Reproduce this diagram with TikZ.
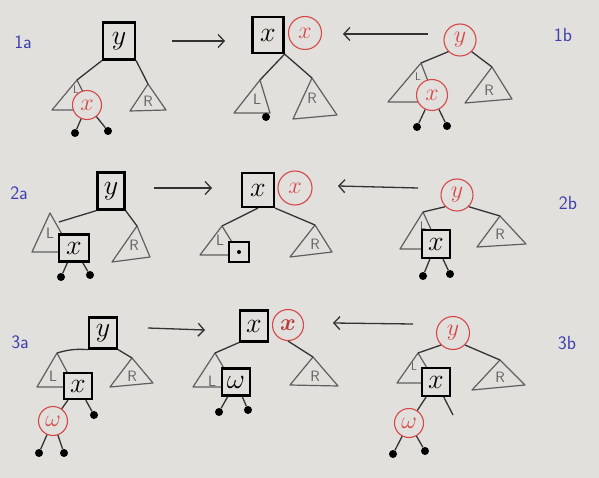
\documentclass[tikz,border=0pt]{standalone}
\usepackage{fix-cm}
\usepackage{amsmath}
\usetikzlibrary{arrows.meta}

\definecolor{paper}{RGB}{226,224,221}
\definecolor{penred}{RGB}{214,72,72}
\definecolor{penblue}{RGB}{62,62,175}
\definecolor{pencil}{RGB}{95,95,95}

\tikzset{
  blk/.style={draw, line width=2.2pt, fill=paper, inner sep=0pt,
    font=\fontsize{28}{28}\selectfont},
  rnode/.style={draw=penred, circle, line width=1.1pt, fill=paper, text=penred,
    inner sep=0pt, minimum size=31pt, font=\fontsize{24}{24}\selectfont},
  leaf/.style={circle, fill=black, inner sep=0pt, minimum size=8pt},
  edge/.style={line width=1.3pt, draw=black!80},
  tri/.style={line width=1.2pt, draw=pencil, line join=round},
  subR/.style={text=pencil, font=\sffamily\fontsize{15}{15}\selectfont},
  subL/.style={text=pencil, font=\sffamily\fontsize{11}{11}\selectfont},
  casename/.style={text=penblue, font=\sffamily\fontsize{19}{19}\selectfont},
}

\begin{document}
\begin{tikzpicture}[x=1pt, y=-1pt, >={Straight Barb[length=6pt,width=13pt]}]
    % 背景
    \fill[paper] (0,0) rectangle (599,478);

    % 情形名称
    \node[casename] (c1a) at (23,42) {1a};
    \node[casename] (c1b) at (563,35) {1b};
    \node[casename] (c2a) at (19,193) {2a};
    \node[casename] (c2b) at (568,203) {2b};
    \node[casename] (c3a) at (20,342) {3a};
    \node[casename] (c3b) at (567,343) {3b};

    % 第一行 1a
    \coordinate (L1a) at (77,80);
    \coordinate (R1a) at (148,84);
    \draw[tri] (L1a) -- (52,110) -- (92,110) -- cycle;
    \draw[tri] (R1a) -- (130,111) -- (166,110) -- cycle;
    \node[subL] (tL1a) at (76,90) {L};
    \node[subR] (tR1a) at (148,101) {R};
    \node[blk, minimum width=32pt, minimum height=37pt] (y1a) at (119,41) {$y$};
    \node[rnode, minimum size=29pt] (x1a) at (87,105) {$x$};
    \node[leaf] (d1a1) at (75,133) {};
    \node[leaf] (d1a2) at (108,131) {};
    \draw[edge] (y1a.south west) -- (L1a);
    \draw[edge] (y1a.south east) -- (R1a);
    \draw[edge] (x1a) -- (d1a1);
    \draw[edge] (x1a) -- (d1a2);

    % 第一行 结果
    \coordinate (L1m) at (260,80);
    \coordinate (R1m) at (312,78);
    \draw[tri] (L1m) -- (234,113) -- (270,113) -- cycle;
    \draw[tri] (R1m) -- (293,119) -- (337,115) -- cycle;
    \node[subR] (tL1m) at (257,99) {L};
    \node[subR] (tR1m) at (312,98) {R};
    \node[blk, minimum width=31pt, minimum height=36pt] (x1m) at (268,35) {$x$};
    \node[rnode, minimum size=33pt] (xx1m) at (305,33) {$x$};
    \node[leaf] (d1m) at (266,117) {};
    \draw[edge] (x1m.south east) -- (L1m);
    \draw[edge] (x1m.south east) -- (R1m);

    % 第一行 1b
    \coordinate (L1b) at (421,63);
    \coordinate (R1b) at (492,67);
    \draw[tri] (L1b) -- (388,102) -- (436,102) -- cycle;
    \draw[tri] (R1b) -- (465,103) -- (512,99) -- cycle;
    \node[subL] (tL1b) at (418,77) {L};
    \node[subR] (tR1b) at (489,90) {R};
    \node[rnode, minimum size=32pt] (y1b) at (460,40) {$y$};
    \node[rnode, minimum size=31pt] (x1b) at (432,95) {$x$};
    \node[leaf] (d1b1) at (417,127) {};
    \node[leaf] (d1b2) at (447,126) {};
    \draw[edge] (y1b.south west) -- (L1b);
    \draw[edge] (y1b.south east) -- (R1b);
    \draw[edge] (x1b) -- (d1b1);
    \draw[edge] (x1b) -- (d1b2);

    % 第一行 箭头
    \coordinate (a1s) at (172,41);
    \coordinate (a1e) at (225,41);
    \coordinate (b1s) at (428,34);
    \coordinate (b1e) at (343,34);
    \draw[edge, ->] (a1s) -- (a1e);
    \draw[edge, ->] (b1s) -- (b1e);

    % 第二行 2a
    \coordinate (L2a) at (50,213);
    \coordinate (R2a) at (137,226);
    \coordinate (j2a) at (59,222);
    \draw[tri] (L2a) -- (32,252) -- (72,252) -- cycle;
    \draw[tri] (R2a) -- (112,262) -- (150,257) -- cycle;
    \node[subR] (tL2a) at (50,233) {L};
    \node[subR] (tR2a) at (134,245) {R};
    \node[blk, minimum width=27pt, minimum height=37pt] (y2a) at (111,191) {$y$};
    \node[blk, minimum width=30pt, minimum height=27pt] (x2a) at (74,248) {$x$};
    \node[leaf] (d2a1) at (61,277) {};
    \node[leaf] (d2a2) at (90,275) {};
    \draw[edge] (y2a.south west) -- (j2a);
    \draw[edge] (y2a.south east) -- (R2a);
    \draw[edge] (x2a) -- (d2a1);
    \draw[edge] (x2a) -- (d2a2);

    % 第二行 结果
    \coordinate (L2m) at (222,226);
    \coordinate (R2m) at (315,225);
    \draw[tri] (L2m) -- (200,255) -- (240,255) -- cycle;
    \draw[tri] (R2m) -- (290,257) -- (332,252) -- cycle;
    \node[subR] (tL2m) at (220,240) {L};
    \node[subR] (tR2m) at (315,244) {R};
    \node[blk, minimum width=32pt, minimum height=34pt] (x2m) at (258,190) {$x$};
    \node[rnode, minimum size=34pt] (xx2m) at (295,188) {$x$};
    \node[blk, line width=2pt, minimum width=20pt, minimum height=19pt] (n2m) at (239,252) {};
    \node[leaf, minimum size=4pt] (d2m) at (n2m) {};
    \draw[edge] (x2m.south) -- (L2m);
    \draw[edge] (x2m.south east) -- (R2m);

    % 第二行 2b
    \coordinate (L2b) at (423,212);
    \coordinate (R2b) at (500,216);
    \draw[tri] (L2b) -- (400,249) -- (440,249) -- cycle;
    \draw[tri] (R2b) -- (477,247) -- (526,244) -- cycle;
    \node[subL] (tL2b) at (423,226) {L};
    \node[subR] (tR2b) at (500,234) {R};
    \node[rnode, minimum size=32pt] (y2b) at (457,195) {$y$};
    \node[blk, minimum width=28pt, minimum height=28pt] (x2b) at (436,244) {$x$};
    \node[leaf] (d2b1) at (423,276) {};
    \node[leaf] (d2b2) at (450,274) {};
    \draw[edge] (y2b.south west) -- (L2b);
    \draw[edge] (y2b.south east) -- (R2b);
    \draw[edge] (x2b) -- (d2b1);
    \draw[edge] (x2b) -- (d2b2);

    % 第二行 箭头
    \coordinate (a2s) at (154,188);
    \coordinate (a2e) at (212,188);
    \coordinate (b2s) at (418,188);
    \coordinate (b2e) at (338,186);
    \draw[edge, ->] (a2s) -- (a2e);
    \draw[edge, ->] (b2s) -- (b2e);

    % 第三行 3a
    \coordinate (L3a) at (57,353);
    \coordinate (R3a) at (132,358);
    \draw[tri] (L3a) -- (37,387) -- (75,387) -- cycle;
    \draw[tri] (R3a) -- (110,387) -- (153,383) -- cycle;
    \node[subR] (tL3a) at (53,376) {L};
    \node[subR] (tR3a) at (132,376) {R};
    \node[blk, minimum width=28pt, minimum height=31pt] (y3a) at (103,333) {$y$};
    \node[blk, minimum width=28pt, minimum height=26pt] (x3a) at (78,386) {$x$};
    \node[rnode, minimum size=29pt] (w3a) at (53,421) {$\omega$};
    \node[leaf] (d3a) at (94,415) {};
    \node[leaf] (d3a1) at (39,453) {};
    \node[leaf] (d3a2) at (64,453) {};
    \draw[edge] (y3a.south west) to[bend right=10] (L3a);
    \draw[edge] (y3a.south east) -- (R3a);
    \draw[edge] (x3a) -- (w3a);
    \draw[edge] (x3a) -- (d3a);
    \draw[edge] (w3a) -- (d3a1);
    \draw[edge] (w3a) -- (d3a2);

    % 第三行 结果
    \coordinate (L3m) at (215,353);
    \coordinate (R3m) at (313,357);
    \draw[tri] (L3m) -- (193,387) -- (235,387) -- cycle;
    \draw[tri] (R3m) -- (290,385) -- (338,386) -- cycle;
    \node[subR] (tL3m) at (212,381) {L};
    \node[subR] (tR3m) at (315,376) {R};
    \node[blk, minimum width=28pt, minimum height=31pt] (x3m) at (254,326) {$x$};
    \node[rnode, minimum size=31pt, text=penred!85!black] (xx3m) at (288,325) {$\boldsymbol{x}$};
    \node[blk, minimum width=28pt, minimum height=27pt] (w3m) at (236,382) {$\omega$};
    \node[leaf] (d3m1) at (219,412) {};
    \node[leaf] (d3m2) at (248,410) {};
    \draw[edge] (x3m.south west) -- (L3m);
    \draw[edge] (xx3m.south) -- (R3m);
    \draw[edge] (w3m) -- (d3m1);
    \draw[edge] (w3m) -- (d3m2);

    % 第三行 3b
    \coordinate (L3b) at (418,353);
    \coordinate (R3b) at (500,360);
    \coordinate (e3b) at (453,415);
    \draw[tri] (L3b) -- (397,383) -- (436,383) -- cycle;
    \draw[tri] (R3b) -- (472,390) -- (525,385) -- cycle;
    \node[subL] (tL3b) at (414,367) {L};
    \node[subR] (tR3b) at (500,377) {R};
    \node[rnode, minimum size=33pt] (y3b) at (453,333) {$y$};
    \node[blk, minimum width=28pt, minimum height=28pt] (x3b) at (436,382) {$x$};
    \node[rnode, minimum size=29pt] (w3b) at (409,423) {$\omega$};
    \node[leaf] (d3b1) at (393,454) {};
    \node[leaf] (d3b2) at (425,451) {};
    \draw[edge] (y3b.south west) -- (L3b);
    \draw[edge] (y3b.south east) -- (R3b);
    \draw[edge] (x3b) -- (w3b);
    \draw[edge] (x3b) -- (e3b);
    \draw[edge] (w3b) -- (d3b1);
    \draw[edge] (w3b) -- (d3b2);

    % 第三行 箭头
    \coordinate (a3s) at (148,328);
    \coordinate (a3e) at (205,330);
    \coordinate (b3s) at (413,324);
    \coordinate (b3e) at (333,323);
    \draw[edge, ->] (a3s) -- (a3e);
    \draw[edge, ->] (b3s) -- (b3e);
\end{tikzpicture}
\end{document}
